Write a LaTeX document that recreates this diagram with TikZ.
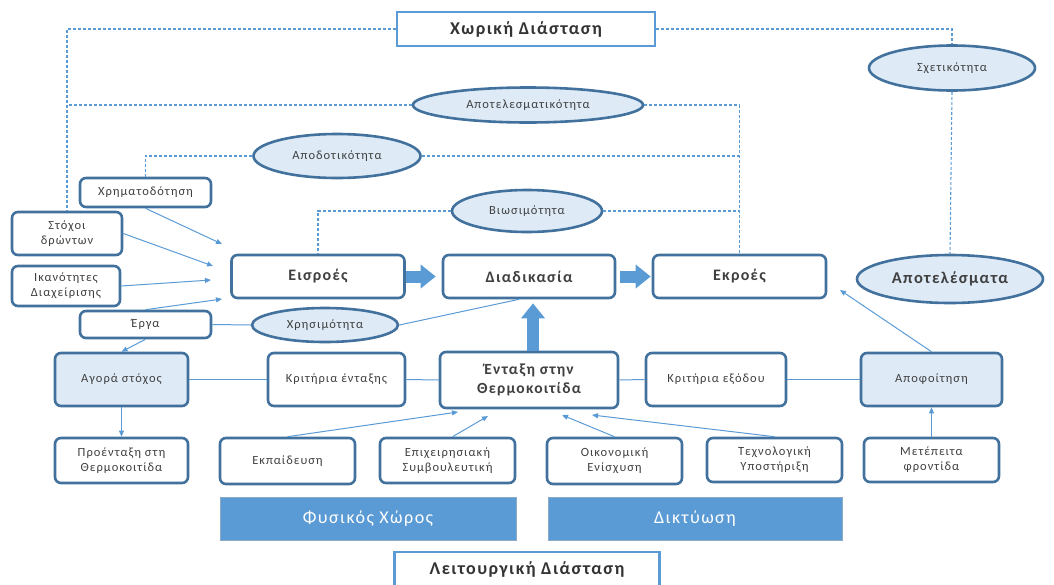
\documentclass[tikz,border=0pt]{standalone}
\usepackage{fontspec}
\setmainfont[LetterSpace=8]{Carlito}
\usetikzlibrary{arrows.meta, positioning, shapes.geometric}
\definecolor{edgeblue}{HTML}{41719C}
\definecolor{lineblue}{HTML}{5B9BD5}
\definecolor{paleblue}{HTML}{DEEBF7}
\definecolor{textgray}{HTML}{404040}

\begin{document}
\begin{tikzpicture}[
    x=1pt, y=-1pt,
    % Styles
    box/.style={rectangle, rounded corners=6pt, draw=edgeblue, line width=2.6pt, fill=white, align=center, text=textgray, inner sep=1pt, font=\fontsize{12.5}{15}\selectfont},
    stage/.style={box, minimum width=173pt, minimum height=43pt, font=\fontsize{16}{18}\selectfont\bfseries},
    smallbox/.style={box, minimum width=135pt, minimum height=45pt},
    shadedbox/.style={box, fill=paleblue},
    measure/.style={ellipse, draw=edgeblue, line width=2.6pt, fill=paleblue, text=textgray, inner sep=0pt, font=\fontsize{12.5}{15}\selectfont},
    dimension/.style={rectangle, draw=lineblue, line width=2.8pt, fill=white, text=black!80, font=\fontsize{18}{20}\selectfont\bfseries},
    support/.style={rectangle, fill=lineblue, draw=edgeblue!60, line width=0.6pt, text=white, font=\fontsize{18}{20}\selectfont},
    arrow/.style={-{Triangle[length=6pt, width=5pt]}, draw=lineblue, line width=1pt},
    link/.style={draw=lineblue, line width=1pt},
    guide/.style={draw=lineblue, line width=1.1pt, dash pattern=on 3pt off 2pt},
    bigarrow/.style={-{Triangle[length=15pt, width=23pt]}, draw=lineblue, line width=12pt}
]
    \useasboundingbox (0,0) rectangle (1054,584);

    % Dimensions
    \node[dimension, minimum width=258pt, minimum height=34pt] (spatial) at (526,29) {Χωρική Διάσταση};
    \node[dimension, minimum width=265pt, minimum height=34pt] (functional) at (527,569) {Λειτουργική Διάσταση};

    % Measures
    \node[measure, minimum width=166pt, minimum height=45pt] (relevance) at (952,68) {Σχετικότητα};
    \node[measure, minimum width=230pt, minimum height=35pt] (effectiveness) at (528,105) {Αποτελεσματικότητα};
    \node[measure, minimum width=167pt, minimum height=44pt] (efficiency) at (337,156) {Αποδοτικότητα};
    \node[measure, minimum width=150pt, minimum height=42pt] (sustainability) at (527,211) {Βιωσιμότητα};
    \node[measure, minimum width=146pt, minimum height=34pt] (utility) at (325,325) {Χρησιμότητα};
    \node[measure, minimum width=186pt, minimum height=48pt, font=\fontsize{16.5}{18}\selectfont\bfseries] (outcomes) at (950,279) {Αποτελέσματα};

    % Input sources
    \node[box, minimum width=131pt, minimum height=29pt] (funding) at (145.5,192.5) {Χρηματοδότηση};
    \node[box, minimum width=110pt, minimum height=43pt] (goals) at (67,233.5) {Στόχοι\\δρώντων};
    \node[box, minimum width=108pt, minimum height=40pt] (skills) at (66,286) {Ικανότητες\\Διαχείρισης};
    \node[box, minimum width=131pt, minimum height=27pt] (projects) at (145.5,324.5) {Έργα};

    % Main chain
    \node[stage] (inputs) at (318,276.5) {Εισροές};
    \node[stage, minimum width=172pt] (process) at (529,276.5) {Διαδικασία};
    \node[stage] (outputs) at (739.5,276.5) {Εκροές};

    % Incubator row
    \node[shadedbox, minimum width=133pt, minimum height=53pt] (market) at (121.5,379.5) {Αγορά στόχος};
    \node[box, minimum width=137pt, minimum height=53pt] (entry) at (336.5,379.5) {Κριτήρια ένταξης};
    \node[box, minimum width=178pt, minimum height=56pt, font=\fontsize{15.5}{19}\selectfont\bfseries] (incubation) at (529,380) {Ένταξη στην\\Θερμοκοιτίδα};
    \node[box, minimum width=140pt, minimum height=53pt] (exit) at (716,379.5) {Κριτήρια εξόδου};
    \node[shadedbox, minimum width=141pt, minimum height=53pt] (graduation) at (931.5,379.5) {Αποφοίτηση};

    % Services
    \node[smallbox, minimum width=133pt] (preincubation) at (121.5,460.5) {Προένταξη στη\\Θερμοκοιτίδα};
    \node[smallbox, minimum height=46pt] (training) at (287.5,461) {Εκπαίδευση};
    \node[smallbox] (consulting) at (447.5,460.5) {Επιχειρησιακή\\Συμβουλευτική};
    \node[smallbox, minimum height=46pt] (finance) at (614.5,461) {Οικονομική\\Ενίσχυση};
    \node[smallbox, minimum height=44pt] (techsupport) at (774.5,460) {Τεχνολογική\\Υποστήριξη};
    \node[smallbox, minimum height=44pt] (aftercare) at (931.5,460) {Μετέπειτα\\φροντίδα};

    % Infrastructure
    \node[support, minimum width=296pt, minimum height=43pt] (space) at (368,518.5) {Φυσικός Χώρος};
    \node[support, minimum width=294pt, minimum height=43pt] (network) at (695,518.5) {Δικτύωση};

    % Arrow targets
    \coordinate (inA) at (222,244);
    \coordinate (inB) at (213,266);
    \coordinate (inC) at (211,280);
    \coordinate (inD) at (222,299);
    \coordinate (incA) at (458,412);
    \coordinate (incB) at (488,416);
    \coordinate (incC) at (562,415);
    \coordinate (incD) at (592,415);
    \coordinate (outA) at (840,290);

    % Dashed guides
    \draw[guide] (spatial.west) -| (goals.north);
    \draw[guide] (spatial.east) -| (relevance.north);
    \draw[guide] (relevance.south) -- (outcomes.north);
    \draw[guide] (effectiveness.west) -- (effectiveness.west -| goals.north);
    \draw[guide] (effectiveness.east) -| (outputs.north);
    \draw[guide] (efficiency.west) -| (funding.north);
    \draw[guide] (efficiency.east) -- (efficiency.east -| outputs.north);
    \draw[guide] (sustainability.west) -| (inputs.north);
    \draw[guide] (sustainability.east) -- (sustainability.east -| outputs.north);

    % Big arrows
    \draw[bigarrow, shorten >=6pt] (inputs) -- (process);
    \draw[bigarrow, shorten <=4pt, shorten >=1pt] (process) -- (outputs);
    \draw[bigarrow, shorten >=4pt] ([xshift=4pt]incubation.north) -- ([xshift=4pt]process.south);

    % Inputs
    \draw[arrow] (funding.south) -- (inA);
    \draw[arrow] (goals.east) -- (inB);
    \draw[arrow] (skills.east) -- (inC);
    \draw[arrow] (projects.north) -- (inD);
    \draw[link] (projects.east) -- (utility.west);
    \draw[link] (utility.east) -- ([xshift=-10pt]process.south);
    \draw[arrow] (projects.south) -- (market.north);
    \draw[arrow] (market.south) -- (preincubation.north);

    % Incubator row
    \draw[link] (market.east) -- (entry.west);
    \draw[link] (entry.east) -- (incubation.west);
    \draw[link] (incubation.east) -- (exit.west);
    \draw[link] (exit.east) -- (graduation.west);

    % Services
    \draw[arrow] (training.north) -- (incA);
    \draw[arrow] ([xshift=5pt]consulting.north) -- (incB);
    \draw[arrow] (finance.north) -- (incC);
    \draw[arrow] (techsupport.north) -- (incD);
    \draw[arrow] (aftercare.north) -- (graduation.south);
    \draw[arrow] (graduation.north) -- (outA);
\end{tikzpicture}
\end{document}
